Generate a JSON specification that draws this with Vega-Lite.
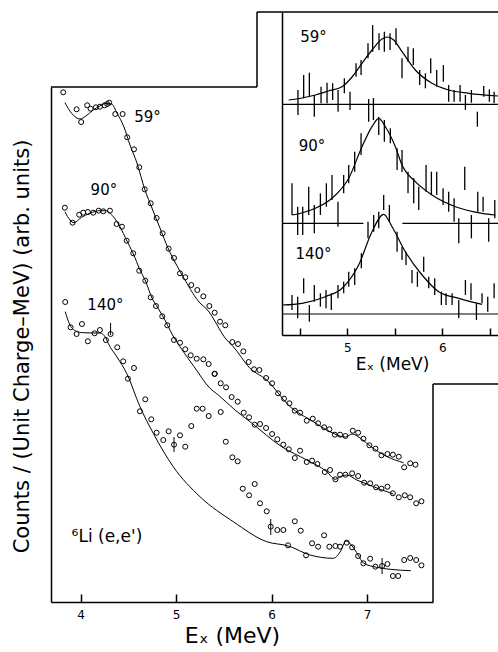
{
 "$schema": "https://vega.github.io/schema/vega-lite/v6.json",
 "width": 498, "height": 652, "autosize": "none", "padding": 0,
 "background": "white",
 "config": {"view": {"stroke": null}, "font": "DejaVu Sans",
  "axis": {"grid": false, "domainColor": "black", "tickColor": "black", "labelColor": "black", "titleColor": "black", "labelFont": "DejaVu Sans", "titleFont": "DejaVu Sans", "titleFontWeight": "normal"}},
 "datasets": {
  "mainPts": [
   {"a":"59","x":3.818,"y":509.7},{"a":"59","x":3.958,"y":492.7},{"a":"59","x":4.006,"y":480},{"a":"59","x":4.069,"y":496.7},{"a":"59","x":4.105,"y":493.3},{"a":"59","x":4.160,"y":494.7},{"a":"59","x":4.202,"y":495.3},{"a":"59","x":4.251,"y":496.7},{"a":"59","x":4.279,"y":498},{"a":"59","x":4.300,"y":499.3},{"a":"59","x":4.363,"y":488},{"a":"59","x":4.440,"y":488},{"a":"59","x":4.488,"y":464.7},{"a":"59","x":4.559,"y":452.7},{"a":"59","x":4.614,"y":434.7},{"a":"59","x":4.671,"y":412.7},{"a":"59","x":4.734,"y":398.7},{"a":"59","x":4.796,"y":384},{"a":"59","x":4.859,"y":368.7},{"a":"59","x":4.922,"y":353.3},{"a":"59","x":4.978,"y":344},{"a":"59","x":5.041,"y":328.7},{"a":"59","x":5.096,"y":324.7},{"a":"59","x":5.159,"y":317},{"a":"59","x":5.222,"y":312},{"a":"59","x":5.285,"y":305.7},{"a":"59","x":5.348,"y":296},{"a":"59","x":5.404,"y":289.3},{"a":"59","x":5.460,"y":280.3},{"a":"59","x":5.515,"y":276.7},{"a":"59","x":5.589,"y":260},{"a":"59","x":5.648,"y":258},{"a":"59","x":5.704,"y":250.7},{"a":"59","x":5.760,"y":240},{"a":"59","x":5.816,"y":232.7},{"a":"59","x":5.872,"y":232},{"a":"59","x":5.942,"y":224},{"a":"59","x":6.005,"y":218.7},{"a":"59","x":6.068,"y":208.7},{"a":"59","x":6.130,"y":203.3},{"a":"59","x":6.186,"y":198.7},{"a":"59","x":6.243,"y":191.3},{"a":"59","x":6.298,"y":189.3},{"a":"59","x":6.368,"y":181.3},{"a":"59","x":6.431,"y":183.3},{"a":"59","x":6.487,"y":178.7},{"a":"59","x":6.550,"y":174.7},{"a":"59","x":6.605,"y":172.7},{"a":"59","x":6.662,"y":167.3},{"a":"59","x":6.717,"y":167.3},{"a":"59","x":6.773,"y":166},{"a":"59","x":6.850,"y":171.3},{"a":"59","x":6.906,"y":169.3},{"a":"59","x":6.961,"y":163.3},{"a":"59","x":7.024,"y":156.7},{"a":"59","x":7.087,"y":153.3},{"a":"59","x":7.150,"y":146.7},{"a":"59","x":7.213,"y":148},{"a":"59","x":7.270,"y":147.3},{"a":"59","x":7.332,"y":145.3},{"a":"59","x":7.388,"y":134.7},{"a":"59","x":7.451,"y":138.7},{"a":"59","x":7.506,"y":137.3},
   {"a":"90","x":3.835,"y":394.3},{"a":"90","x":3.916,"y":379.3},{"a":"90","x":3.985,"y":387.3},{"a":"90","x":4.027,"y":389.3},{"a":"90","x":4.076,"y":390},{"a":"90","x":4.132,"y":389.3},{"a":"90","x":4.189,"y":391.3},{"a":"90","x":4.237,"y":390.7},{"a":"90","x":4.307,"y":391.3},{"a":"90","x":4.377,"y":378},{"a":"90","x":4.433,"y":375.3},{"a":"90","x":4.482,"y":361.3},{"a":"90","x":4.551,"y":348.7},{"a":"90","x":4.614,"y":331.3},{"a":"90","x":4.677,"y":321.3},{"a":"90","x":4.734,"y":304.7},{"a":"90","x":4.789,"y":296},{"a":"90","x":4.855,"y":285.7},{"a":"90","x":4.908,"y":276.7},{"a":"90","x":4.978,"y":262},{"a":"90","x":5.041,"y":259.3},{"a":"90","x":5.096,"y":252.7},{"a":"90","x":5.153,"y":246.7},{"a":"90","x":5.216,"y":243.3},{"a":"90","x":5.285,"y":242.7},{"a":"90","x":5.341,"y":238},{"a":"90","x":5.404,"y":228.3},{"a":"90","x":5.467,"y":218.7},{"a":"90","x":5.523,"y":214.7},{"a":"90","x":5.582,"y":205},{"a":"90","x":5.645,"y":200.3},{"a":"90","x":5.708,"y":189.3},{"a":"90","x":5.764,"y":184.7},{"a":"90","x":5.823,"y":177.3},{"a":"90","x":5.879,"y":178},{"a":"90","x":5.942,"y":174},{"a":"90","x":6.005,"y":168},{"a":"90","x":6.060,"y":162.7},{"a":"90","x":6.123,"y":157.3},{"a":"90","x":6.180,"y":152.7},{"a":"90","x":6.243,"y":144},{"a":"90","x":6.298,"y":151.3},{"a":"90","x":6.368,"y":140},{"a":"90","x":6.424,"y":141.3},{"a":"90","x":6.479,"y":138},{"a":"90","x":6.557,"y":130},{"a":"90","x":6.612,"y":132},{"a":"90","x":6.668,"y":122.7},{"a":"90","x":6.717,"y":127.3},{"a":"90","x":6.773,"y":127.3},{"a":"90","x":6.843,"y":128.7},{"a":"90","x":6.906,"y":126},{"a":"90","x":6.969,"y":119.3},{"a":"90","x":7.032,"y":118.7},{"a":"90","x":7.094,"y":114.7},{"a":"90","x":7.150,"y":113.3},{"a":"90","x":7.213,"y":115.3},{"a":"90","x":7.270,"y":108.7},{"a":"90","x":7.332,"y":104.7},{"a":"90","x":7.395,"y":106.7},{"a":"90","x":7.451,"y":104.7},{"a":"90","x":7.514,"y":98.7},{"a":"90","x":7.569,"y":100.7},
   {"a":"140","x":3.839,"y":300},{"a":"140","x":3.895,"y":274.7},{"a":"140","x":3.958,"y":268},{"a":"140","x":4.014,"y":278},{"a":"140","x":4.076,"y":260.7},{"a":"140","x":4.147,"y":268.7},{"a":"140","x":4.202,"y":272},{"a":"140","x":4.265,"y":262},{"a":"140","x":4.314,"y":268},{"a":"140","x":4.384,"y":254.7},{"a":"140","x":4.446,"y":240.7},{"a":"140","x":4.559,"y":234},{"a":"140","x":4.496,"y":223.3},{"a":"140","x":4.677,"y":202.7},{"a":"140","x":4.621,"y":190.7},{"a":"140","x":4.740,"y":182.7},{"a":"140","x":4.796,"y":169.3},{"a":"140","x":4.866,"y":162},{"a":"140","x":4.922,"y":170.7},{"a":"140","x":4.978,"y":157.3},{"a":"140","x":5.041,"y":166.7},{"a":"140","x":5.096,"y":155.3},{"a":"140","x":5.159,"y":176},{"a":"140","x":5.216,"y":193.3},{"a":"140","x":5.278,"y":193.3},{"a":"140","x":5.341,"y":186},{"a":"140","x":5.404,"y":228},{"a":"140","x":5.467,"y":190},{"a":"140","x":5.520,"y":160.3},{"a":"140","x":5.589,"y":144.7},{"a":"140","x":5.645,"y":140.7},{"a":"140","x":5.698,"y":113.3},{"a":"140","x":5.764,"y":106.7},{"a":"140","x":5.823,"y":118},{"a":"140","x":5.879,"y":98.7},{"a":"140","x":5.949,"y":90.7},{"a":"140","x":5.991,"y":75.3},{"a":"140","x":6.060,"y":72},{"a":"140","x":6.123,"y":72},{"a":"140","x":6.172,"y":56.7},{"a":"140","x":6.243,"y":80.7},{"a":"140","x":6.305,"y":71.3},{"a":"140","x":6.361,"y":46.7},{"a":"140","x":6.424,"y":58.7},{"a":"140","x":6.487,"y":55.3},{"a":"140","x":6.550,"y":66.7},{"a":"140","x":6.605,"y":55.3},{"a":"140","x":6.668,"y":56},{"a":"140","x":6.717,"y":55.3},{"a":"140","x":6.787,"y":59.3},{"a":"140","x":6.843,"y":54.7},{"a":"140","x":6.906,"y":46},{"a":"140","x":6.961,"y":38.7},{"a":"140","x":7.032,"y":43.3},{"a":"140","x":7.087,"y":35.3},{"a":"140","x":7.157,"y":36},{"a":"140","x":7.213,"y":38},{"a":"140","x":7.270,"y":26},{"a":"140","x":7.325,"y":26},{"a":"140","x":7.388,"y":42},{"a":"140","x":7.451,"y":44},{"a":"140","x":7.514,"y":42},{"a":"140","x":7.569,"y":36.7}
  ],
  "mainFit": [
   {"a":"59","x":3.836,"y":499.3},{"a":"59","x":3.906,"y":488.7},{"a":"59","x":3.993,"y":483},{"a":"59","x":4.056,"y":486},{"a":"59","x":4.132,"y":492},{"a":"59","x":4.202,"y":496},{"a":"59","x":4.272,"y":498.7},{"a":"59","x":4.325,"y":498},{"a":"59","x":4.380,"y":489},{"a":"59","x":4.454,"y":475},{"a":"59","x":4.517,"y":457},{"a":"59","x":4.590,"y":439},{"a":"59","x":4.674,"y":412},{"a":"59","x":4.747,"y":394},{"a":"59","x":4.831,"y":374},{"a":"59","x":4.915,"y":354},{"a":"59","x":4.999,"y":338},{"a":"59","x":5.093,"y":322},{"a":"59","x":5.250,"y":299},{"a":"59","x":5.320,"y":293},{"a":"59","x":5.530,"y":262},{"a":"59","x":5.599,"y":255.3},{"a":"59","x":5.774,"y":233.7},{"a":"59","x":5.949,"y":222},{"a":"59","x":6.186,"y":196},{"a":"59","x":6.437,"y":180.3},{"a":"59","x":6.612,"y":170.3},{"a":"59","x":6.770,"y":165},{"a":"59","x":6.843,"y":168},{"a":"59","x":6.927,"y":164},{"a":"59","x":7.032,"y":156},{"a":"59","x":7.210,"y":145.3},{"a":"59","x":7.381,"y":139.3},
   {"a":"90","x":3.836,"y":390.3},{"a":"90","x":3.888,"y":382},{"a":"90","x":3.930,"y":379.3},{"a":"90","x":4.010,"y":384.7},{"a":"90","x":4.097,"y":388.7},{"a":"90","x":4.202,"y":391.3},{"a":"90","x":4.265,"y":391.3},{"a":"90","x":4.342,"y":385.3},{"a":"90","x":4.412,"y":375.3},{"a":"90","x":4.485,"y":361},{"a":"90","x":4.548,"y":349},{"a":"90","x":4.622,"y":332},{"a":"90","x":4.684,"y":320},{"a":"90","x":4.747,"y":304},{"a":"90","x":4.810,"y":294},{"a":"90","x":4.883,"y":282},{"a":"90","x":4.957,"y":268},{"a":"90","x":5.041,"y":255.3},{"a":"90","x":5.198,"y":234},{"a":"90","x":5.355,"y":213.7},{"a":"90","x":5.442,"y":207},{"a":"90","x":5.617,"y":192},{"a":"90","x":5.774,"y":180.3},{"a":"90","x":6.106,"y":155.3},{"a":"90","x":6.368,"y":142},{"a":"90","x":6.578,"y":130.3},{"a":"90","x":6.665,"y":122.7},{"a":"90","x":6.735,"y":126},{"a":"90","x":6.787,"y":127},{"a":"90","x":6.892,"y":122},{"a":"90","x":6.997,"y":118},{"a":"90","x":7.136,"y":112.7},{"a":"90","x":7.276,"y":108},
   {"a":"140","x":3.839,"y":290.3},{"a":"140","x":3.888,"y":277},{"a":"140","x":3.951,"y":271},{"a":"140","x":4.024,"y":269.3},{"a":"140","x":4.150,"y":269},{"a":"140","x":4.202,"y":269},{"a":"140","x":4.265,"y":264},{"a":"140","x":4.289,"y":258.7},{"a":"140","x":4.381,"y":245},{"a":"140","x":4.482,"y":228.7},{"a":"140","x":4.622,"y":195.3},{"a":"140","x":4.761,"y":168.7},{"a":"140","x":4.970,"y":135.3},{"a":"140","x":5.250,"y":105.3},{"a":"140","x":5.599,"y":80.3},{"a":"140","x":5.949,"y":60.3},{"a":"140","x":6.176,"y":56},{"a":"140","x":6.403,"y":47},{"a":"140","x":6.647,"y":43.7},{"a":"140","x":6.717,"y":50},{"a":"140","x":6.780,"y":61},{"a":"140","x":6.843,"y":56},{"a":"140","x":6.906,"y":47},{"a":"140","x":6.961,"y":39},{"a":"140","x":7.102,"y":34.7},{"a":"140","x":7.241,"y":32.7},{"a":"140","x":7.458,"y":31.3}
  ],
  "mainErr": [
   {"x":4.978,"lo":150,"hi":165},{"x":5.991,"lo":67,"hi":83},{"x":7.157,"lo":28,"hi":44},{"x":4.314,"lo":267,"hi":279}
  ],
  "frame": [
   {"x1":3.69,"x2":5.847,"y1":515,"y2":515},{"x1":5.847,"x2":5.847,"y1":515,"y2":590},{"x1":5.847,"x2":8.371,"y1":590,"y2":590},{"x1":7.69,"x2":8.371,"y1":218,"y2":218},{"x1":7.69,"x2":7.69,"y1":0,"y2":218}
  ],
  "mainLabels": [
   {"x":4.700,"y":485.3,"t":"59°","s":15},{"x":4.244,"y":412,"t":"90°","s":15},{"x":4.260,"y":297,"t":"140°","s":15},{"x":4.276,"y":65,"t":"⁶Li (e,e')","s":17}
  ],
  "insetBars": [
   {"a":"59","x":4.481,"lo":220,"hi":245},{"a":"59","x":4.541,"lo":236.7,"hi":260},{"a":"59","x":4.601,"lo":238.3,"hi":262.3},{"a":"59","x":4.653,"lo":218.3,"hi":240},{"a":"59","x":4.724,"lo":231.7,"hi":248.3},{"a":"59","x":4.787,"lo":231.7,"hi":252.3},{"a":"59","x":4.846,"lo":235,"hi":251.7},{"a":"59","x":4.903,"lo":223.3,"hi":245},{"a":"59","x":4.969,"lo":241.7,"hi":256.7},{"a":"59","x":5.029,"lo":225,"hi":243.3},{"a":"59","x":5.092,"lo":258.3,"hi":271.7},{"a":"59","x":5.145,"lo":260,"hi":275},{"a":"59","x":5.218,"lo":276.7,"hi":291.7},{"a":"59","x":5.267,"lo":283.3,"hi":310},{"a":"59","x":5.334,"lo":285,"hi":301.7},{"a":"59","x":5.390,"lo":283.3,"hi":303.3},{"a":"59","x":5.450,"lo":285,"hi":301.7},{"a":"59","x":5.513,"lo":290,"hi":306.7},{"a":"59","x":5.576,"lo":256.7,"hi":276.7},{"a":"59","x":5.639,"lo":273.3,"hi":288.3},{"a":"59","x":5.695,"lo":270,"hi":286.7},{"a":"59","x":5.762,"lo":250,"hi":265},{"a":"59","x":5.822,"lo":246.7,"hi":261.7},{"a":"59","x":5.878,"lo":261.7,"hi":276.7},{"a":"59","x":5.941,"lo":248.3,"hi":265},{"a":"59","x":6.011,"lo":253.3,"hi":270},{"a":"59","x":6.067,"lo":233.3,"hi":250},{"a":"59","x":6.124,"lo":233.3,"hi":245},{"a":"59","x":6.187,"lo":233.3,"hi":250},{"a":"59","x":6.243,"lo":225,"hi":240},{"a":"59","x":6.306,"lo":232.3,"hi":245},{"a":"59","x":6.369,"lo":208.3,"hi":223.3},{"a":"59","x":6.436,"lo":238.3,"hi":249},{"a":"59","x":6.495,"lo":233.3,"hi":245.7},{"a":"59","x":6.545,"lo":231.7,"hi":243.3},
   {"a":"90","x":4.418,"lo":120,"hi":151.7},{"a":"90","x":4.478,"lo":100,"hi":128.3},{"a":"90","x":4.531,"lo":100,"hi":128.3},{"a":"90","x":4.594,"lo":120,"hi":148.3},{"a":"90","x":4.653,"lo":101.7,"hi":130},{"a":"90","x":4.717,"lo":120,"hi":141.7},{"a":"90","x":4.780,"lo":128.3,"hi":151.7},{"a":"90","x":4.839,"lo":135,"hi":160},{"a":"90","x":4.902,"lo":108.3,"hi":133.3},{"a":"90","x":4.962,"lo":141.7,"hi":160},{"a":"90","x":5.015,"lo":151.7,"hi":170},{"a":"90","x":5.078,"lo":163.3,"hi":183.3},{"a":"90","x":5.145,"lo":180,"hi":201.7},{"a":"90","x":5.225,"lo":213.3,"hi":236},{"a":"90","x":5.275,"lo":215,"hi":237},{"a":"90","x":5.331,"lo":200,"hi":218},{"a":"90","x":5.390,"lo":193.3,"hi":215},{"a":"90","x":5.453,"lo":191.7,"hi":206.7},{"a":"90","x":5.524,"lo":165,"hi":186.7},{"a":"90","x":5.576,"lo":163,"hi":185},{"a":"90","x":5.639,"lo":141.7,"hi":163.3},{"a":"90","x":5.699,"lo":131.7,"hi":156.7},{"a":"90","x":5.752,"lo":125,"hi":148.3},{"a":"90","x":5.829,"lo":143.3,"hi":170},{"a":"90","x":5.885,"lo":140,"hi":163.3},{"a":"90","x":5.941,"lo":140,"hi":163.3},{"a":"90","x":6.008,"lo":130,"hi":146.7},{"a":"90","x":6.067,"lo":123.3,"hi":143.3},{"a":"90","x":6.124,"lo":113.3,"hi":136.7},{"a":"90","x":6.173,"lo":91.7,"hi":116.7},{"a":"90","x":6.236,"lo":145,"hi":168.3},{"a":"90","x":6.306,"lo":96.7,"hi":120},{"a":"90","x":6.373,"lo":123.3,"hi":143.3},{"a":"90","x":6.429,"lo":123.3,"hi":138.3},{"a":"90","x":6.488,"lo":93.3,"hi":116.7},{"a":"90","x":6.552,"lo":116.7,"hi":135},
   {"a":"140","x":4.418,"lo":25,"hi":40},{"a":"140","x":4.478,"lo":16.7,"hi":38.3},{"a":"140","x":4.541,"lo":41.7,"hi":56.7},{"a":"140","x":4.601,"lo":13.3,"hi":30},{"a":"140","x":4.653,"lo":33.3,"hi":50},{"a":"140","x":4.717,"lo":28.3,"hi":41.7},{"a":"140","x":4.776,"lo":26.7,"hi":45},{"a":"140","x":4.832,"lo":25,"hi":41.7},{"a":"140","x":4.902,"lo":36.7,"hi":50},{"a":"140","x":4.962,"lo":41.7,"hi":53.3},{"a":"140","x":5.015,"lo":48.3,"hi":63.3},{"a":"140","x":5.078,"lo":50,"hi":66.7},{"a":"140","x":5.148,"lo":66.7,"hi":81.7},{"a":"140","x":5.218,"lo":96.7,"hi":113.3},{"a":"140","x":5.278,"lo":103.3,"hi":120},{"a":"140","x":5.331,"lo":106.7,"hi":123.3},{"a":"140","x":5.383,"lo":125,"hi":140},{"a":"140","x":5.443,"lo":113.3,"hi":130},{"a":"140","x":5.524,"lo":83.3,"hi":103.3},{"a":"140","x":5.576,"lo":75,"hi":88.3},{"a":"140","x":5.618,"lo":70,"hi":83.3},{"a":"140","x":5.681,"lo":51.7,"hi":65},{"a":"140","x":5.738,"lo":48.3,"hi":63.3},{"a":"140","x":5.804,"lo":63.3,"hi":78.3},{"a":"140","x":5.857,"lo":46.7,"hi":58.3},{"a":"140","x":5.920,"lo":40,"hi":56.7},{"a":"140","x":5.990,"lo":30,"hi":43.3},{"a":"140","x":6.039,"lo":30,"hi":41.7},{"a":"140","x":6.103,"lo":30,"hi":41.7},{"a":"140","x":6.173,"lo":16.7,"hi":35},{"a":"140","x":6.243,"lo":40,"hi":55},{"a":"140","x":6.302,"lo":35,"hi":51.7},{"a":"140","x":6.359,"lo":15,"hi":31.7},{"a":"140","x":6.418,"lo":31.7,"hi":41.7},{"a":"140","x":6.478,"lo":23.3,"hi":38.3},{"a":"140","x":6.545,"lo":36.7,"hi":51.7}
  ],
  "insetFit": [
   {"a":"59","x":4.383,"y":235},{"a":"59","x":4.524,"y":237},{"a":"59","x":4.664,"y":240},{"a":"59","x":4.800,"y":244},{"a":"59","x":4.945,"y":248.3},{"a":"59","x":5.050,"y":258},{"a":"59","x":5.155,"y":271.7},{"a":"59","x":5.260,"y":285},{"a":"59","x":5.366,"y":296},{"a":"59","x":5.420,"y":298},{"a":"59","x":5.489,"y":295},{"a":"59","x":5.576,"y":283.3},{"a":"59","x":5.716,"y":265},{"a":"59","x":5.892,"y":251.7},{"a":"59","x":6.067,"y":245},{"a":"59","x":6.278,"y":241.7},{"a":"59","x":6.586,"y":239},
   {"a":"90","x":4.418,"y":120},{"a":"90","x":4.520,"y":122},{"a":"90","x":4.664,"y":126.7},{"a":"90","x":4.839,"y":136.7},{"a":"90","x":5.015,"y":156.7},{"a":"90","x":5.155,"y":188.3},{"a":"90","x":5.260,"y":208.3},{"a":"90","x":5.331,"y":216.7},{"a":"90","x":5.401,"y":208.3},{"a":"90","x":5.506,"y":188.3},{"a":"90","x":5.576,"y":170},{"a":"90","x":5.716,"y":153.3},{"a":"90","x":5.892,"y":140},{"a":"90","x":6.138,"y":128.3},{"a":"90","x":6.418,"y":121.7},{"a":"90","x":6.559,"y":120},
   {"a":"140","x":4.313,"y":30},{"a":"140","x":4.524,"y":31.7},{"a":"140","x":4.769,"y":38.3},{"a":"140","x":4.945,"y":46.7},{"a":"140","x":5.120,"y":70},{"a":"140","x":5.260,"y":103.3},{"a":"140","x":5.383,"y":120.7},{"a":"140","x":5.471,"y":108.3},{"a":"140","x":5.611,"y":83.3},{"a":"140","x":5.787,"y":60},{"a":"140","x":5.962,"y":43.3},{"a":"140","x":6.173,"y":36.7},{"a":"140","x":6.418,"y":30.7}
  ],
  "insetBase": [
   {"x1":4.313,"x2":6.586,"y":230.7},{"x1":4.313,"x2":5.17,"y":111.7},{"x1":5.58,"x2":6.586,"y":111.7},{"x1":4.313,"x2":6.586,"y":21}
  ],
  "insetLabels": [
   {"x":4.645,"y":298.3,"t":"59°"},{"x":4.629,"y":189,"t":"90°"},{"x":4.645,"y":81,"t":"140°"}
  ]
 },
 "resolve": {"scale": {"x": "independent", "y": "independent"}, "axis": {"x": "independent", "y": "independent"}},
 "layer": [
  {"data": {"name": "mainPts"},
   "mark": {"type": "point", "filled": false, "color": "black", "size": 25, "strokeWidth": 1, "opacity": 1},
   "encoding": {
    "x": {"field": "x", "type": "quantitative", "scale": {"domain": [3.69, 7.69], "range": [51, 433], "nice": false, "zero": false},
     "axis": {"orient": "bottom", "offset": -50, "values": [4, 5, 6, 7], "format": "d", "tickSize": -8, "tickWidth": 1.5, "domainWidth": 1.5, "labelFontSize": 12, "labelPadding": 15, "labelOverlap": false, "title": "Eₓ (MeV)", "titleFontSize": 22, "titleX": 232, "titleY": 33, "titleAlign": "center", "titleBaseline": "middle"}},
    "y": {"field": "y", "type": "quantitative", "scale": {"domain": [0, 515], "range": [602, 87], "nice": false, "zero": false},
     "axis": {"orient": "left", "offset": -51, "ticks": false, "labels": false, "domainWidth": 1.5, "title": "Counts / (Unit Charge–MeV) (arb. units)", "titleFontSize": 21, "titleX": -29, "titleY": 346, "titleAngle": -90, "titleAlign": "center", "titleBaseline": "middle"}}
   }},
  {"data": {"name": "mainFit"},
   "mark": {"type": "line", "color": "black", "strokeWidth": 1, "interpolate": "monotone"},
   "encoding": {"x": {"field": "x", "type": "quantitative", "scale": {"domain": [3.69, 7.69], "range": [51, 433], "nice": false, "zero": false}, "axis": null}, "y": {"field": "y", "type": "quantitative", "scale": {"domain": [0, 515], "range": [602, 87], "nice": false, "zero": false}, "axis": null}, "detail": {"field": "a"}}},
  {"data": {"name": "mainErr"},
   "mark": {"type": "rule", "color": "black", "strokeWidth": 1},
   "encoding": {"x": {"field": "x", "type": "quantitative", "scale": {"domain": [3.69, 7.69], "range": [51, 433], "nice": false, "zero": false}, "axis": null}, "y": {"field": "lo", "type": "quantitative", "scale": {"domain": [0, 515], "range": [602, 87], "nice": false, "zero": false}, "axis": null}, "y2": {"field": "hi"}}},
  {"data": {"name": "frame"},
   "mark": {"type": "rule", "color": "black", "strokeWidth": 1.5},
   "encoding": {"x": {"field": "x1", "type": "quantitative", "scale": {"domain": [3.69, 7.69], "range": [51, 433], "nice": false, "zero": false}, "axis": null}, "x2": {"field": "x2"}, "y": {"field": "y1", "type": "quantitative", "scale": {"domain": [0, 515], "range": [602, 87], "nice": false, "zero": false}, "axis": null}, "y2": {"field": "y2"}}},
  {"data": {"name": "mainLabels"},
   "mark": {"type": "text", "color": "black", "font": "DejaVu Sans", "align": "center", "baseline": "middle"},
   "encoding": {"x": {"field": "x", "type": "quantitative", "scale": {"domain": [3.69, 7.69], "range": [51, 433], "nice": false, "zero": false}, "axis": null}, "y": {"field": "y", "type": "quantitative", "scale": {"domain": [0, 515], "range": [602, 87], "nice": false, "zero": false}, "axis": null}, "text": {"field": "t"}, "size": {"field": "s", "type": "quantitative", "scale": null}}},
  {"data": {"name": "insetBars"},
   "mark": {"type": "rule", "color": "black", "strokeWidth": 1.3},
   "encoding": {
    "x": {"field": "x", "type": "quantitative", "scale": {"domain": [4.313, 6.586], "range": [282, 498], "nice": false, "zero": false},
     "axis": {"orient": "bottom", "offset": -317, "values": [4.5, 5, 5.5, 6, 6.5], "tickSize": -7, "tickWidth": 1.5, "domainWidth": 1.5, "labelExpr": "datum.value % 1 === 0 ? format(datum.value, 'd') : ''", "labelFontSize": 12, "labelPadding": 14, "labelOverlap": false, "title": "Eₓ (MeV)", "titleFontSize": 17, "titleX": 392, "titleY": 29, "titleAlign": "center", "titleBaseline": "middle"}},
    "y": {"field": "lo", "type": "quantitative", "scale": {"domain": [0, 323], "range": [335, 12], "nice": false, "zero": false},
     "axis": {"orient": "left", "offset": -282, "ticks": false, "labels": false, "domainWidth": 1.5, "title": null}},
    "y2": {"field": "hi"}
   }},
  {"data": {"name": "insetFit"},
   "mark": {"type": "line", "color": "black", "strokeWidth": 1.2, "interpolate": "monotone"},
   "encoding": {"x": {"field": "x", "type": "quantitative", "scale": {"domain": [4.313, 6.586], "range": [282, 498], "nice": false, "zero": false}, "axis": null}, "y": {"field": "y", "type": "quantitative", "scale": {"domain": [0, 323], "range": [335, 12], "nice": false, "zero": false}, "axis": null}, "detail": {"field": "a"}}},
  {"data": {"name": "insetBase"},
   "mark": {"type": "rule", "color": "black", "strokeWidth": 1.2},
   "encoding": {"x": {"field": "x1", "type": "quantitative", "scale": {"domain": [4.313, 6.586], "range": [282, 498], "nice": false, "zero": false}, "axis": null}, "x2": {"field": "x2"}, "y": {"field": "y", "type": "quantitative", "scale": {"domain": [0, 323], "range": [335, 12], "nice": false, "zero": false}, "axis": null}}},
  {"data": {"name": "insetLabels"},
   "mark": {"type": "text", "color": "black", "font": "DejaVu Sans", "fontSize": 15, "align": "center", "baseline": "middle"},
   "encoding": {"x": {"field": "x", "type": "quantitative", "scale": {"domain": [4.313, 6.586], "range": [282, 498], "nice": false, "zero": false}, "axis": null}, "y": {"field": "y", "type": "quantitative", "scale": {"domain": [0, 323], "range": [335, 12], "nice": false, "zero": false}, "axis": null}, "text": {"field": "t"}}}
 ]
}
